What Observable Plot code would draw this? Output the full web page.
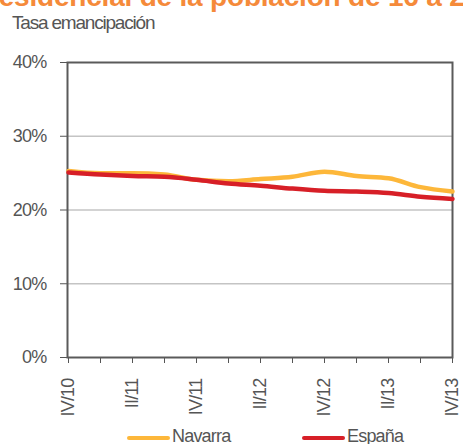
<!DOCTYPE html>
<html><head><meta charset="utf-8">
<script src="https://cdn.jsdelivr.net/npm/d3@7"></script>
<script src="https://cdn.jsdelivr.net/npm/@observablehq/plot@0.6"></script>
<style>
body{margin:0;background:#fff;}
#wrap{position:relative;width:463px;height:444px;overflow:hidden;background:#fff;font-family:"Liberation Sans",Arial,sans-serif;letter-spacing:-0.8px;color:#555;}
#title{position:absolute;left:-12px;top:-17px;font:bold 28px "Liberation Sans",Arial,sans-serif;letter-spacing:-0.2px;line-height:28px;color:#f58a3a;white-space:nowrap;}
#sub{position:absolute;left:12px;top:12px;font-size:19px;letter-spacing:-1.2px;line-height:22px;}
#chart{position:absolute;left:0;top:40px;}
.lg{position:absolute;top:426px;font-size:18px;line-height:20px;white-space:nowrap;}
.sw{position:absolute;top:436px;width:43px;height:4px;border-radius:2px;}
</style></head>
<body>
<div id="wrap">
  <div id="title">residencial de la población de 16 a 29 años</div>
  <div id="sub">Tasa emancipación</div>
  <div id="chart"></div>
  <div id="legend"></div>
</div>
<script>
const quarters = ["IV/10","I/11","II/11","III/11","IV/11","I/12","II/12","III/12","IV/12","I/13","II/13","III/13","IV/13"];
const labeled = ["IV/10","II/11","IV/11","II/12","IV/12","II/13","IV/13"];
const navarra = [25.3, 25.0, 25.0, 24.8, 24.1, 23.9, 24.2, 24.5, 25.2, 24.6, 24.3, 23.1, 22.5];
const espana  = [25.1, 24.8, 24.6, 24.5, 24.1, 23.6, 23.3, 22.9, 22.6, 22.5, 22.3, 21.8, 21.5];
const series = ["Navarra", "España"];
const colors = ["#fdb73a", "#d71f27"];
const yTicks = [0, 10, 20, 30, 40];

const data = [];
series.forEach((s, k) => {
  const vals = k === 0 ? navarra : espana;
  quarters.forEach((q, i) => data.push({q, serie: s, v: vals[i]}));
});
const shown = new Set(labeled);
const font = '"Liberation Sans",Arial,sans-serif';

const chart = Plot.plot({
  width: 463, height: 385,
  marginTop: 22, marginLeft: 67, marginRight: 11, marginBottom: 68,
  style: {fontFamily: font, fontSize: "18px", letterSpacing: "-0.8px", color: "#555", background: "white", overflow: "visible"},
  x: {type: "point", domain: quarters, padding: 0},
  y: {domain: [0, 40]},
  color: {domain: series, range: colors},
  marks: [
    Plot.gridY([10, 20, 30], {stroke: "#c4c4c4", strokeOpacity: 1, strokeWidth: 1.5}),
    Plot.axisY({ticks: yTicks, tickFormat: d => d + "%", tickSize: 7, tickPadding: 14, label: null}),
    Plot.axisX({tickRotate: -90, tickFormat: d => shown.has(d) ? d : "", tickSize: 6, tickPadding: 15, label: null}),
    Plot.frame({stroke: "#5a5a5a", strokeWidth: 2}),
    Plot.line(data, {x: "q", y: "v", z: "serie", stroke: "serie", strokeWidth: 4.5, curve: "monotone-x"})
  ]
});
document.getElementById("chart").appendChild(chart);

const lg = document.getElementById("legend");
const pos = [[127, 172], [302, 347]];
series.forEach((s, k) => {
  const sw = document.createElement("div");
  sw.className = "sw"; sw.style.left = pos[k][0] + "px"; sw.style.background = colors[k];
  lg.appendChild(sw);
  const t = document.createElement("div");
  t.className = "lg"; t.style.left = pos[k][1] + "px"; t.textContent = s;
  lg.appendChild(t);
});
</script>
</body></html>
